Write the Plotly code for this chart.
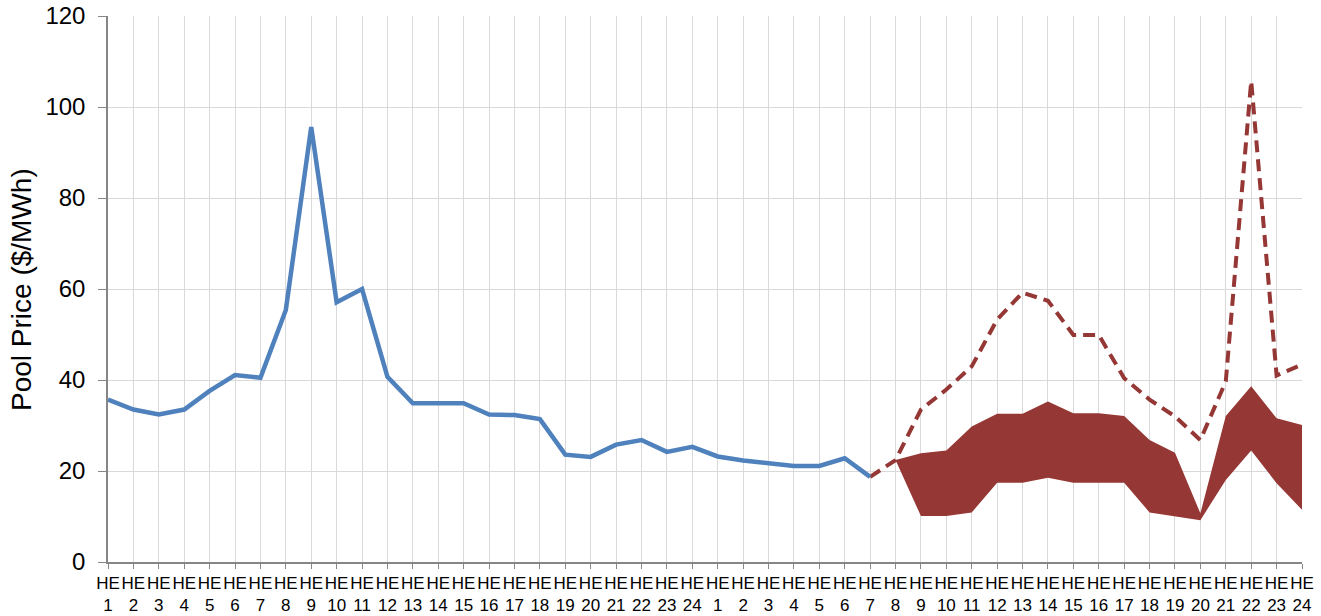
import plotly.graph_objects as go

# ---- data ----
hours = list(range(1, 25)) + list(range(1, 25))          # two days of hour-ending labels
tick_labels = ["HE<br>%d" % h for h in hours]

actual_price = [35.7, 33.5, 32.4, 33.5, 37.6, 41.1, 40.5, 55.4, 95.6, 57.1, 60.0, 40.7,
                34.9, 34.9, 34.9, 32.4, 32.3, 31.4, 23.6, 23.1, 25.8, 26.8, 24.2, 25.3,
                23.2, 22.3, 21.6, 21.1, 21.1, 22.8, 18.7]           # day1 HE1 .. day2 HE7

forecast_high = [18.7, 22.4, 33.5, 37.9, 43.0, 53.3, 59.2, 57.4, 49.9, 49.9, 40.4,
                 35.7, 32.0, 26.8, 39.7, 105.7, 41.0, 43.4]          # day2 HE7 .. HE24

band_upper = [22.4, 23.9, 24.5, 29.8, 32.6, 32.6, 35.3, 32.7, 32.7, 32.1, 26.8,
              24.0, 10.7, 32.1, 38.6, 31.6, 30.1]                    # day2 HE8 .. HE24
band_lower = [22.4, 10.1, 10.1, 10.9, 17.4, 17.4, 18.5, 17.4, 17.4, 17.4, 10.9,
              10.1, 9.2, 18.0, 24.5, 17.3, 11.5]                     # day2 HE8 .. HE24

y_title = "Pool Price ($/MWh)"

# ---- positions derived from the data lengths ----
x_all = list(range(len(hours)))
x_actual = x_all[:len(actual_price)]
x_high = x_all[len(x_all) - len(forecast_high):]
x_band = x_all[len(x_all) - len(band_upper):]

BLUE = "#4F81BD"
RED = "#953735"
GRID = "#D9D9D9"
AXIS = "#868686"
FONT = "Liberation Sans, Arial, sans-serif"

fig = go.Figure()

fig.add_trace(go.Scatter(x=x_band, y=band_lower, mode="lines",
                         line=dict(width=0, color=RED), showlegend=False,
                         hoverinfo="skip"))
fig.add_trace(go.Scatter(x=x_band, y=band_upper, mode="lines",
                         line=dict(width=0, color=RED), fill="tonexty",
                         fillcolor=RED, showlegend=False))

fig.add_trace(go.Scatter(x=x_high, y=forecast_high, mode="lines",
                         line=dict(color=RED, width=4, dash="12px,7px"),
                         showlegend=False))

fig.add_trace(go.Scatter(x=x_actual, y=actual_price, mode="lines",
                         line=dict(color=BLUE, width=4.5), showlegend=False))

fig.update_layout(
    width=1321, height=616,
    margin=dict(l=108, r=19, t=16, b=54),
    paper_bgcolor="white", plot_bgcolor="white",
    font=dict(family=FONT, color="#000000"),
    showlegend=False,
    annotations=[dict(text=y_title, xref="paper", yref="paper",
                      x=-0.0729, y=0.5, xanchor="center", yanchor="middle",
                      textangle=-90, showarrow=False,
                      font=dict(size=28, family=FONT, color="#000000"))],
)

fig.update_xaxes(
    range=[0, len(hours) - 1],
    tickmode="array", tickvals=x_all, ticktext=tick_labels,
    tickfont=dict(size=17, family=FONT, color="#000000"),
    showgrid=True, gridcolor=GRID, gridwidth=1,
    showline=True, linecolor=AXIS, linewidth=1.5,
    ticks="outside", ticklen=5, tickcolor=AXIS,
    tickangle=0, zeroline=False, automargin=False,
    ticklabeloverflow="allow",
)

fig.update_yaxes(
    range=[0, 120], tickmode="array", tickvals=[0, 20, 40, 60, 80, 100, 120],
    tickfont=dict(size=24, family=FONT, color="#000000"),
    showgrid=True, gridcolor=GRID, gridwidth=1,
    showline=True, linecolor=AXIS, linewidth=1.5,
    ticks="outside", ticklen=8, tickcolor=AXIS,
    ticklabelstandoff=8,
    zeroline=False, automargin=False,
    ticklabeloverflow="allow",
)

# remove the browser's default 8px body margin so the figure fills the window
fig.write_html("out.html",
               config={"displayModeBar": False},
               post_script="document.body.style.margin='0';document.body.style.overflow='hidden';")
